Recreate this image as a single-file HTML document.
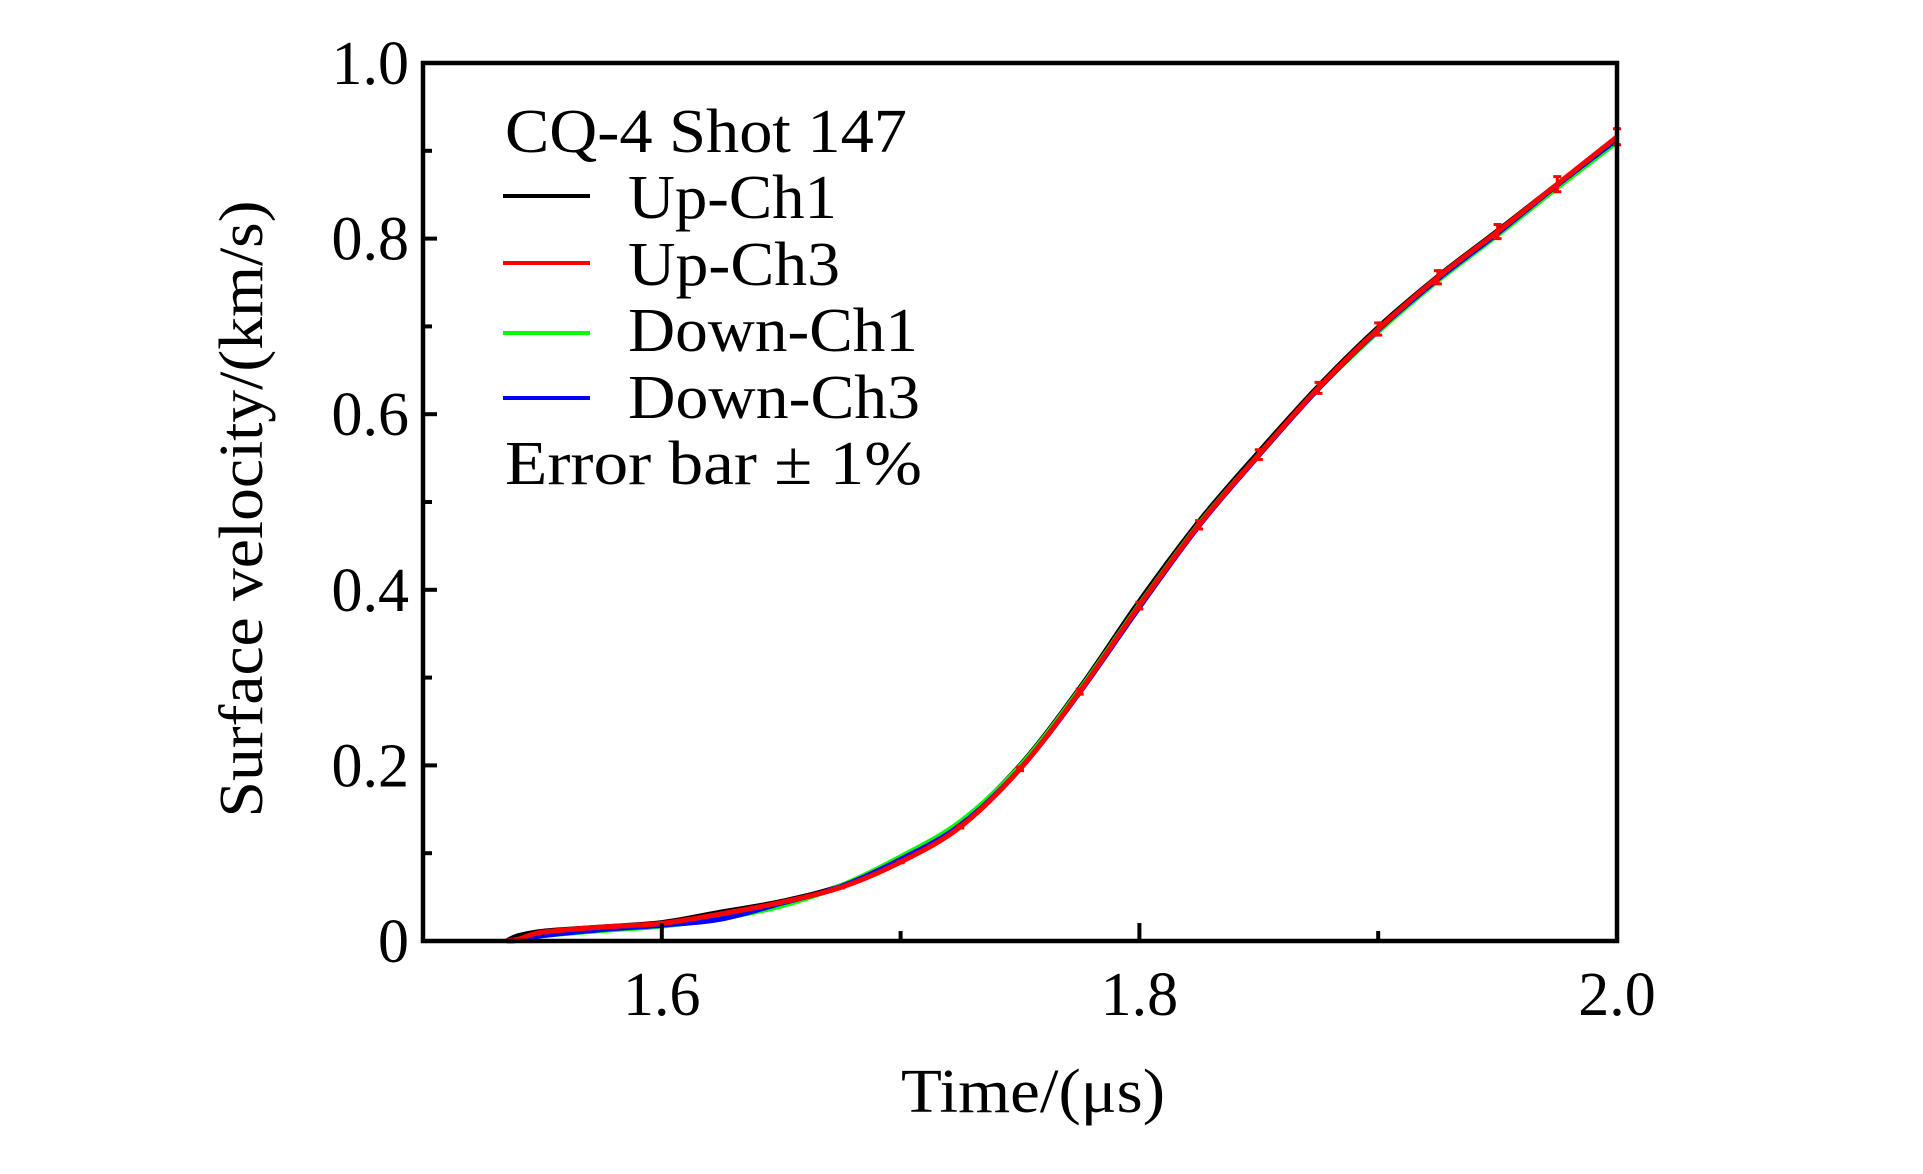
<!DOCTYPE html>
<html><head><meta charset="utf-8"><style>
html,body{margin:0;padding:0;background:#fff;}
svg text{font-family:"Liberation Serif",serif;fill:#000;}
</style></head><body>
<svg id="chart" width="1923" height="1169" viewBox="0 0 1923 1169" xmlns="http://www.w3.org/2000/svg">
<g id="marks"></g>
<rect x="423" y="63" width="1194" height="878" fill="none" stroke="#000" stroke-width="4.5"/>
<g id="axes"></g>
<text x="1033" y="1112" font-size="62" text-anchor="middle" textLength="264" lengthAdjust="spacingAndGlyphs">Time/(μs)</text>
<text transform="translate(262,509) rotate(-90)" font-size="62" text-anchor="middle" textLength="617" lengthAdjust="spacingAndGlyphs">Surface velocity/(km/s)</text>
<g>
<text x="505" y="152" font-size="62" textLength="402" lengthAdjust="spacingAndGlyphs">CQ-4 Shot 147</text>
<line x1="503" y1="196" x2="590" y2="196" stroke="#000" stroke-width="4"/>
<text x="628" y="218" font-size="62" textLength="209" lengthAdjust="spacingAndGlyphs">Up-Ch1</text>
<line x1="503" y1="263" x2="590" y2="263" stroke="#f00" stroke-width="4"/>
<text x="628" y="285" font-size="62" textLength="212" lengthAdjust="spacingAndGlyphs">Up-Ch3</text>
<line x1="503" y1="333" x2="590" y2="333" stroke="#0f0" stroke-width="4"/>
<text x="628" y="351" font-size="62" textLength="290" lengthAdjust="spacingAndGlyphs">Down-Ch1</text>
<line x1="503" y1="398" x2="590" y2="398" stroke="#00f" stroke-width="4"/>
<text x="628" y="418" font-size="62" textLength="292" lengthAdjust="spacingAndGlyphs">Down-Ch3</text>
<text x="505" y="484" font-size="62" textLength="417" lengthAdjust="spacingAndGlyphs">Error bar ± 1%</text>
</g>
</svg>
<script>
const times = [1.535,1.54,1.55,1.575,1.6,1.625,1.65,1.675,1.7,1.725,1.75,1.775,1.8,1.825,1.85,1.875,1.9,1.925,1.95,1.975,2.0];
const upCh1 = [0,0.006,0.011,0.016,0.021,0.033,0.045,0.063,0.094,0.135,0.2,0.288,0.387,0.478,0.557,0.632,0.699,0.757,0.809,0.862,0.915];
const upCh3 = [0,0.002,0.010,0.016,0.020,0.031,0.044,0.061,0.090,0.130,0.196,0.284,0.382,0.474,0.554,0.630,0.697,0.756,0.808,0.862,0.916];
const downCh1 = [0,0.001,0.006,0.012,0.017,0.026,0.040,0.063,0.096,0.136,0.199,0.286,0.383,0.475,0.554,0.629,0.694,0.752,0.804,0.858,0.91];
const downCh3 = [0,0.001,0.006,0.013,0.018,0.025,0.043,0.062,0.093,0.132,0.196,0.283,0.380,0.473,0.553,0.629,0.696,0.754,0.806,0.861,0.913];
const xTicks = [1.6,1.8,2.0];
const xMinor = [1.7,1.9];
const yTicks = [0,0.2,0.4,0.6,0.8,1.0];
const yTickLabels = ["0","0.2","0.4","0.6","0.8","1.0"];
const yMinor = [0.1,0.3,0.5,0.7,0.9];
const xTickLabels = ["1.6","1.8","2.0"];

const X0=423,X1=1617,Y0=941,Y1=63;
function xs(t){return X0+(t-1.5)/0.5*(X1-X0);}
function ys(v){return Y0-(v/1.0)*(Y0-Y1);}
const NS="http://www.w3.org/2000/svg";
const marks=document.getElementById('marks');
const axes=document.getElementById('axes');

function smoothPath(vals){
  const P=times.map((t,i)=>[xs(t),ys(vals[i])]);
  let d='M'+P[0][0].toFixed(1)+' '+P[0][1].toFixed(1);
  for(let i=0;i<P.length-1;i++){
    const p0=P[Math.max(0,i-1)],p1=P[i],p2=P[i+1],p3=P[Math.min(P.length-1,i+2)];
    const c1=[p1[0]+(p2[0]-p0[0])/6,p1[1]+(p2[1]-p0[1])/6];
    const c2=[p2[0]-(p3[0]-p1[0])/6,p2[1]-(p3[1]-p1[1])/6];
    d+=`C${c1[0].toFixed(1)} ${c1[1].toFixed(1)} ${c2[0].toFixed(1)} ${c2[1].toFixed(1)} ${p2[0].toFixed(1)} ${p2[1].toFixed(1)}`;
  }
  return d;
}
function drawSeries(vals,color,name){
  const p=document.createElementNS(NS,'path');
  p.setAttribute('d',smoothPath(vals));p.setAttribute('fill','none');p.setAttribute('stroke',color);
  p.setAttribute('stroke-width','5');p.setAttribute('stroke-linejoin','round');
  
  
  marks.appendChild(p);
}
drawSeries(upCh1,'#000','series-up-ch1');
drawSeries(downCh1,'#0f0','series-down-ch1');
drawSeries(downCh3,'#00f','series-down-ch3');
drawSeries(upCh3,'#f00','series-up-ch3');
times.forEach((t,i)=>{
  const v=upCh3[i]; if(v<0.05) return;
  const e=document.createElementNS(NS,'path');
  const x=xs(t),a=ys(v*1.01),b=ys(v*0.99);
  e.setAttribute('d',`M${x} ${a}L${x} ${b}M${x-4} ${a}L${x+4} ${a}M${x-4} ${b}L${x+4} ${b}`);
  e.setAttribute('stroke','#f00');e.setAttribute('stroke-width','3');
  
  
  marks.appendChild(e);
});

function line(x1,y1,x2,y2,name){
  const l=document.createElementNS(NS,'line');
  l.setAttribute('x1',x1);l.setAttribute('y1',y1);l.setAttribute('x2',x2);l.setAttribute('y2',y2);
  l.setAttribute('stroke','#000');l.setAttribute('stroke-width','4');
  
  
  axes.appendChild(l);
}
function text(x,y,s,anchor,name){
  const t=document.createElementNS(NS,'text');
  t.setAttribute('x',x);t.setAttribute('y',y);t.setAttribute('font-size','62');t.setAttribute('text-anchor',anchor);
  t.textContent=s;
  
  
  axes.appendChild(t);
}
xTicks.forEach((t,i)=>{line(xs(t),Y0,xs(t),Y0-18,'x-tick');text(xs(t),1015,xTickLabels[i],'middle','x-tick-label');});
xMinor.forEach(t=>line(xs(t),Y0,xs(t),Y0-10,'x-minor-tick'));
yTicks.forEach((v,i)=>{line(X0,ys(v),X0+14,ys(v),'y-tick');text(409,ys(v)+21,yTickLabels[i],'end','y-tick-label');});
yMinor.forEach(v=>line(X0,ys(v),X0+9,ys(v),'y-minor-tick'));
</script>
</body></html>
